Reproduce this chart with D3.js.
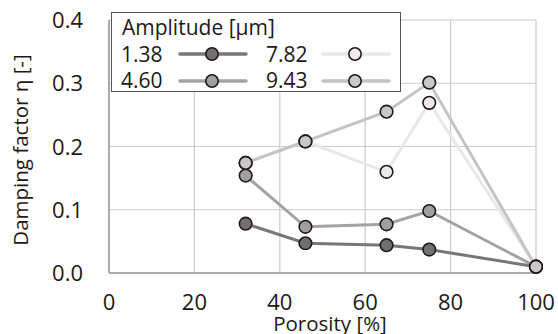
<!DOCTYPE html>
<html>
<head>
<meta charset="utf-8">
<script src="https://cdn.jsdelivr.net/npm/d3@7"></script>
<style>
  body { margin: 0; background: #fff; }
  svg { font-family: "Open Sans", "Noto Sans", sans-serif; }
</style>
</head>
<body>
<svg id="chart" width="558" height="334"></svg>
<script>
// porosity [%] of each sample
const porosity = [32, 46, 65, 75, 100];

// damping factor per amplitude
const amp138 = [0.078, 0.047, 0.044, 0.037, 0.01];
const amp460 = [0.154, 0.073, 0.077, 0.098, 0.01];
const amp782 = [0.174, 0.208, 0.160, 0.269, 0.01];
const amp943 = [0.174, 0.208, 0.255, 0.301, 0.01];

const seriesNames = ["1.38", "4.60", "7.82", "9.43"];
const xTicks = [0, 20, 40, 60, 80, 100];
const yTicks = [0.0, 0.1, 0.2, 0.3, 0.4];

const series = [
  { name: "1.38", values: amp138, line: "#777777", fill: "#707070" },
  { name: "4.60", values: amp460, line: "#a3a3a3", fill: "#a0a0a0" },
  { name: "7.82", values: amp782, line: "#e8e8e8", fill: "#ebebeb" },
  { name: "9.43", values: amp943, line: "#c4c4c4", fill: "#c8c8c8" }
];

const svg = d3.select("#chart");
const margin = { top: 20, right: 22, bottom: 61, left: 109 };
const width = 558 - margin.left - margin.right;
const height = 334 - margin.top - margin.bottom;

const g = svg.append("g").attr("transform", `translate(${margin.left},${margin.top})`);

const x = d3.scaleLinear().domain([0, 100]).range([0, width]);
const y = d3.scaleLinear().domain([0, 0.4]).range([height, 0]);

// grid
g.append("g").selectAll("line").data(yTicks.slice(1)).join("line")
  .attr("x1", 0).attr("x2", width)
  .attr("y1", d => y(d)).attr("y2", d => y(d))
  .attr("stroke", "#cccccc").attr("stroke-width", 1.2);
g.append("g").selectAll("line").data(xTicks.slice(1)).join("line")
  .attr("x1", d => x(d)).attr("x2", d => x(d))
  .attr("y1", 0).attr("y2", height)
  .attr("stroke", "#cccccc").attr("stroke-width", 1.2);

// axes lines
g.append("line").attr("x1", 0).attr("x2", 0).attr("y1", 0).attr("y2", height)
  .attr("stroke", "#aaaaaa").attr("stroke-width", 2);
g.append("line").attr("x1", 0).attr("x2", width).attr("y1", height).attr("y2", height)
  .attr("stroke", "#aaaaaa").attr("stroke-width", 2);

// tick labels
g.append("g").selectAll("text").data(yTicks).join("text")
  .attr("x", -26).attr("y", d => y(d) + 8)
  .attr("text-anchor", "end").attr("font-size", 22).attr("fill", "#231815")
  .text(d => d.toFixed(1));
g.append("g").selectAll("text").data(xTicks).join("text")
  .attr("x", d => x(d)).attr("y", height + 37)
  .attr("text-anchor", "middle").attr("font-size", 22).attr("fill", "#231815")
  .text(d => d);

// axis titles
svg.append("text")
  .attr("transform", "translate(28,150) rotate(-90)")
  .attr("text-anchor", "middle").attr("font-size", 20.5).attr("fill", "#231815")
  .text("Damping factor η [-]");
svg.append("text")
  .attr("x", 330).attr("y", 331)
  .attr("text-anchor", "middle").attr("font-size", 20.5).attr("fill", "#231815")
  .text("Porosity [%]");

// lines
const line = d3.line().x((d, i) => x(porosity[i])).y(d => y(d));
const order = [1, 0, 2, 3];
order.forEach(k => {
  const s = series[k];
  g.append("path").datum(s.values)
    .attr("fill", "none").attr("stroke", s.line).attr("stroke-width", 3)
    .attr("d", line);
});
order.forEach(k => {
  const s = series[k];
  g.append("g").selectAll("circle").data(s.values).join("circle")
    .attr("cx", (d, i) => x(porosity[i])).attr("cy", d => y(d)).attr("r", 6.3)
    .attr("fill", s.fill).attr("stroke", "#231815").attr("stroke-width", 1.6);
});

// legend
const lg = svg.append("g");
lg.append("rect").attr("x", 111.5).attr("y", 12.5).attr("width", 289).attr("height", 79)
  .attr("fill", "#fff").attr("stroke", "#555").attr("stroke-width", 1);
lg.append("text").attr("x", 122).attr("y", 35).attr("font-size", 21).attr("fill", "#231815")
  .text("Amplitude [µm]");
const legPos = [
  { tx: 121, lx: 180, cy: 54, by: 62 },
  { tx: 121, lx: 180, cy: 81, by: 88 },
  { tx: 266, lx: 323, cy: 54, by: 62 },
  { tx: 266, lx: 323, cy: 81, by: 88 }
];
series.forEach((s, i) => {
  const p = legPos[i];
  lg.append("text").attr("x", p.tx).attr("y", p.by)
    .attr("font-size", 21).attr("fill", "#231815").text(seriesNames[i]);
  lg.append("line").attr("x1", p.lx).attr("x2", p.lx + 66).attr("y1", p.cy).attr("y2", p.cy)
    .attr("stroke", s.line).attr("stroke-width", 3.5).attr("stroke-linecap", "round");
  lg.append("circle").attr("cx", p.lx + 32).attr("cy", p.cy).attr("r", 6.2)
    .attr("fill", s.fill).attr("stroke", "#231815").attr("stroke-width", 1.6);
});
</script>
</body>
</html>
